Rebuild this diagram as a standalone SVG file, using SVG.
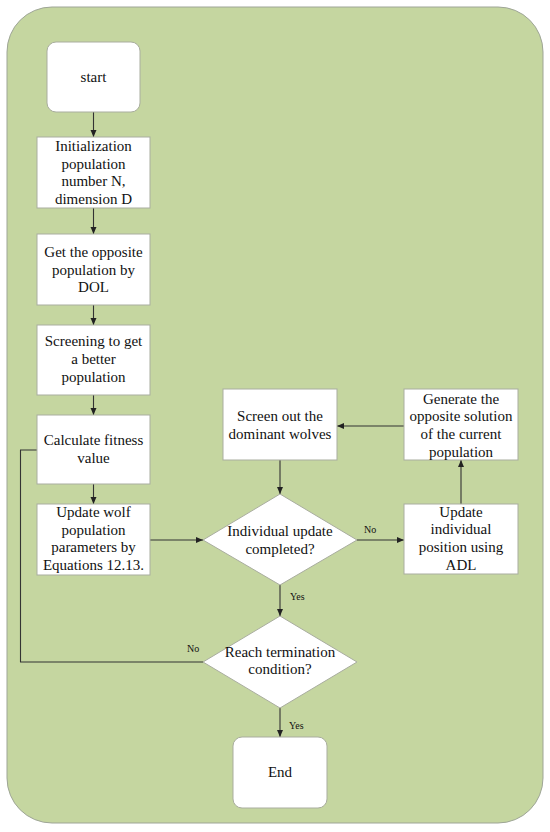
<svg xmlns="http://www.w3.org/2000/svg" width="550" height="832" viewBox="0 0 550 832">
<style>
.bg{fill:#c5d6a0;stroke:#9ea596;stroke-width:1}
.box{fill:#ffffff;stroke:#a9ad9f;stroke-width:1}
.t{font-family:"Liberation Serif","Times New Roman",serif;font-size:15px;fill:#111;text-anchor:middle}
.s{font-family:"Liberation Serif","Times New Roman",serif;font-size:10px;fill:#111}
.c{fill:none;stroke:#333;stroke-width:1.1}
</style>
<defs>
<marker id="ah" markerUnits="userSpaceOnUse" markerWidth="8" markerHeight="8" viewBox="0 0 8 8" refX="7" refY="4" orient="auto">
<path d="M0,1 L7,4 L0,7 Z" fill="#222"/>
</marker>
</defs>
<rect class="bg" x="7" y="7" width="536" height="816" rx="45" ry="45"/>
<g id="connectors">
<line class="c" x1="93.5" y1="112" x2="93.5" y2="137" marker-end="url(#ah)"/>
<line class="c" x1="93.5" y1="208" x2="93.5" y2="234" marker-end="url(#ah)"/>
<line class="c" x1="93.5" y1="305" x2="93.5" y2="325" marker-end="url(#ah)"/>
<line class="c" x1="93.5" y1="395" x2="93.5" y2="415" marker-end="url(#ah)"/>
<line class="c" x1="93.5" y1="484" x2="93.5" y2="504" marker-end="url(#ah)"/>
<line class="c" x1="150" y1="540" x2="203" y2="540" marker-end="url(#ah)"/>
<line class="c" x1="357" y1="540" x2="404" y2="540" marker-end="url(#ah)"/>
<line class="c" x1="461" y1="504" x2="461" y2="460" marker-end="url(#ah)"/>
<line class="c" x1="404" y1="426" x2="337" y2="426" marker-end="url(#ah)"/>
<line class="c" x1="280" y1="460" x2="280" y2="494" marker-end="url(#ah)"/>
<line class="c" x1="280" y1="585" x2="280" y2="616" marker-end="url(#ah)"/>
<line class="c" x1="280" y1="708" x2="280" y2="737" marker-end="url(#ah)"/>
<polyline class="c" points="203,662 20.5,662 20.5,450 37,450"/>
<text class="s" x="364" y="533">No</text>
<text class="s" x="290" y="600">Yes</text>
<text class="s" x="187" y="652">No</text>
<text class="s" x="289" y="729">Yes</text>
</g>
<g id="start">
<rect class="box" x="47" y="42" width="93" height="70" rx="9" ry="9"/>
<text class="t" x="93.5" y="82">start</text>
</g>
<g id="init">
<rect class="box" x="37" y="137" width="113" height="71"/>
<text class="t" x="93.5" y="151">Initialization</text>
<text class="t" x="93.5" y="168.7">population</text>
<text class="t" x="93.5" y="186.4">number N,</text>
<text class="t" x="93.5" y="204">dimension D</text>
</g>
<g id="opposite">
<rect class="box" x="37" y="234" width="113" height="71"/>
<text class="t" x="93.5" y="257">Get the opposite</text>
<text class="t" x="93.5" y="274.5">population by</text>
<text class="t" x="93.5" y="292">DOL</text>
</g>
<g id="screening">
<rect class="box" x="37" y="325" width="113" height="70"/>
<text class="t" x="93.5" y="346">Screening to get</text>
<text class="t" x="93.5" y="364">a better</text>
<text class="t" x="93.5" y="381.7">population</text>
</g>
<g id="fitness">
<rect class="box" x="37" y="415" width="113" height="69"/>
<text class="t" x="93.5" y="445">Calculate fitness</text>
<text class="t" x="93.5" y="462.7">value</text>
</g>
<g id="updatewolf">
<rect class="box" x="37" y="504" width="113" height="71"/>
<text class="t" x="93.5" y="517">Update wolf</text>
<text class="t" x="93.5" y="534.5">population</text>
<text class="t" x="93.5" y="552">parameters by</text>
<text class="t" x="93.5" y="570">Equations 12.13.</text>
</g>
<g id="decision1">
<polygon class="box" points="280,494 357,540 280,585 203,540"/>
<text class="t" x="280" y="536">Individual update</text>
<text class="t" x="280" y="553.5">completed?</text>
</g>
<g id="screenout">
<rect class="box" x="223" y="389" width="114" height="71"/>
<text class="t" x="280" y="421">Screen out the</text>
<text class="t" x="280" y="439">dominant wolves</text>
</g>
<g id="generate">
<rect class="box" x="404" y="389" width="114" height="71"/>
<text class="t" x="461" y="403.5">Generate the</text>
<text class="t" x="461" y="421">opposite solution</text>
<text class="t" x="461" y="438.7">of the current</text>
<text class="t" x="461" y="456.5">population</text>
</g>
<g id="updateind">
<rect class="box" x="404" y="504" width="114" height="70"/>
<text class="t" x="461" y="516.7">Update</text>
<text class="t" x="461" y="534.3">individual</text>
<text class="t" x="461" y="552">position using</text>
<text class="t" x="461" y="570">ADL</text>
</g>
<g id="decision2">
<polygon class="box" points="280,616 357,662 280,708 203,662"/>
<text class="t" x="280" y="656.7">Reach termination</text>
<text class="t" x="280" y="674">condition?</text>
</g>
<g id="end">
<rect class="box" x="233" y="737" width="94" height="71" rx="9" ry="9"/>
<text class="t" x="280" y="777">End</text>
</g>
</svg>
